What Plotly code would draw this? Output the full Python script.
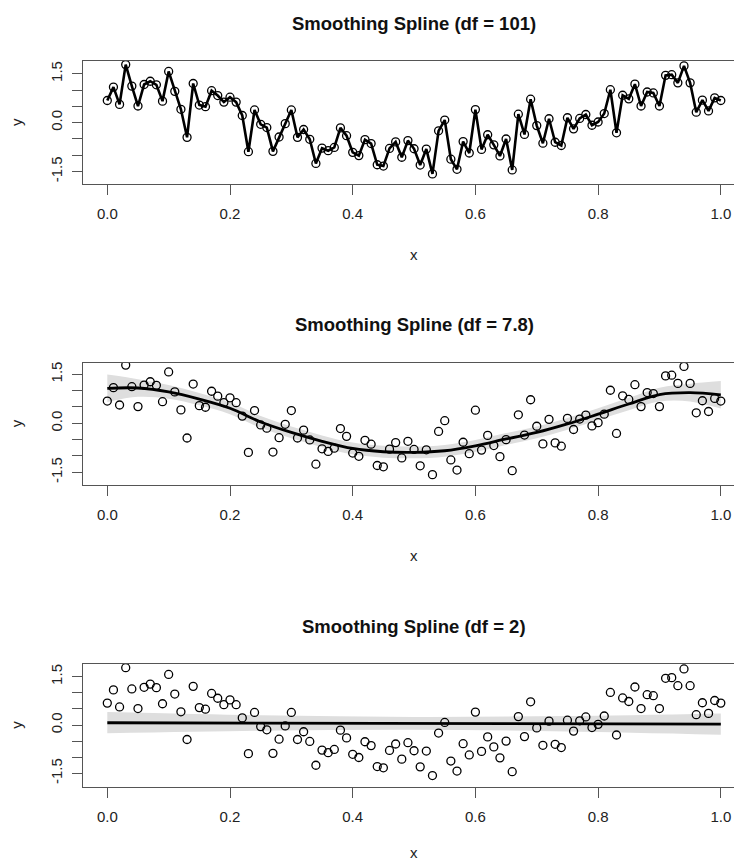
import plotly.graph_objects as go

# Observations: x = 0.00, 0.01, ..., 1.00
x_obs = [round(i * 0.01, 2) for i in range(101)]
y_obs = [
    0.68, 1.09, 0.56, 1.78, 1.12, 0.51, 1.17, 1.27, 1.16, 0.66,
    1.57, 0.96, 0.41, -0.45, 1.20, 0.54, 0.49, 0.98, 0.83, 0.63,
    0.78, 0.63, 0.22, -0.89, 0.39, -0.05, -0.15, -0.88, -0.44, -0.03,
    0.39, -0.45, -0.21, -0.51, -1.25, -0.78, -0.86, -0.76, -0.16, -0.40,
    -0.91, -1.01, -0.52, -0.64, -1.29, -1.33, -0.79, -0.59, -1.06, -0.55,
    -0.80, -1.30, -0.81, -1.57, -0.25, 0.08, -1.12, -1.43, -0.58, -0.93,
    0.40, -0.82, -0.37, -0.68, -1.02, -0.50, -1.45, 0.26, -0.36, 0.72,
    -0.09, -0.63, 0.12, -0.60, -0.70, 0.15, -0.19, 0.13, 0.25, -0.08,
    0.02, 0.28, 1.01, -0.31, 0.84, 0.73, 1.18, 0.51, 0.94, 0.91,
    0.51, 1.45, 1.47, 1.22, 1.74, 1.22, 0.32, 0.69, 0.36, 0.76,
    0.68,
]

# Fitted spline, df = 7.8, with pointwise band
x_fit7 = [round(i * 0.05, 2) for i in range(21)]
fit7 = [1.07, 1.08, 0.96, 0.74, 0.46, 0.04, -0.28, -0.55, -0.77, -0.87,
        -0.89, -0.84, -0.69, -0.48, -0.28, -0.02, 0.28, 0.59, 0.88, 0.94, 0.87]
upper7 = [1.49, 1.35, 1.17, 0.93, 0.64, 0.22, -0.10, -0.37, -0.59, -0.69,
          -0.71, -0.66, -0.51, -0.30, -0.10, 0.16, 0.46, 0.78, 1.09, 1.21, 1.29]
lower7 = [0.65, 0.81, 0.75, 0.55, 0.28, -0.14, -0.46, -0.73, -0.95, -1.05,
          -1.07, -1.02, -0.87, -0.66, -0.46, -0.20, 0.10, 0.40, 0.67, 0.67, 0.45]

# Fitted spline, df = 2 (straight line), with pointwise band
x_fit2 = [0.0, 0.25, 0.5, 0.75, 1.0]
fit2 = [0.07, 0.06, 0.05, 0.04, 0.03]
upper2 = [0.40, 0.30, 0.25, 0.28, 0.36]
lower2 = [-0.26, -0.18, -0.15, -0.20, -0.30]

titles = ["Smoothing Spline (df = 101)", "Smoothing Spline (df = 7.8)",
          "Smoothing Spline (df = 2)"]
x_ticks = [0.0, 0.2, 0.4, 0.6, 0.8, 1.0]
x_ticktext = ["0.0", "0.2", "0.4", "0.6", "0.8", "1.0"]
y_ticks = [-1.5, -1.0, -0.5, 0.0, 0.5, 1.0, 1.5]
y_ticktext = ["-1.5", "", "", "0.0", "", "", "1.5"]

W, H = 734, 861
FONT = "Liberation Sans, Arial, Helvetica, sans-serif"
BAND = "#dedede"
AXC = "#555555"

# panel boxes in pixels: (top, bottom) and y ranges
boxes = [(61, 184), (362.7, 485), (664, 786.7)]
yranges = [[-1.88, 1.89], [-1.887, 1.853], [-1.916, 1.894]]
xlab_offset = [70, 70, 66]
x_left_px = 83.0
x0_px, x1_px = 107.3, 720.8
ppu = x1_px - x0_px
xrange_ = [(x_left_px - x0_px) / ppu, (W - x0_px) / ppu]

fig = go.Figure()

# panel 1: interpolating spline through every observation
fig.add_trace(go.Scatter(
    x=x_obs, y=y_obs, mode="lines+markers", xaxis="x", yaxis="y",
    line=dict(color="black", width=2.6),
    marker=dict(symbol="circle-open", size=8, color="black",
                line=dict(width=1.3, color="black")),
    showlegend=False, hoverinfo="skip"))

# panel 2
fig.add_trace(go.Scatter(x=x_fit7, y=lower7, mode="lines", xaxis="x2", yaxis="y2",
                         line=dict(width=0, shape="spline", color=BAND),
                         showlegend=False, hoverinfo="skip"))
fig.add_trace(go.Scatter(x=x_fit7, y=upper7, mode="lines", xaxis="x2", yaxis="y2",
                         line=dict(width=0, shape="spline", color=BAND),
                         fill="tonexty", fillcolor=BAND,
                         showlegend=False, hoverinfo="skip"))
fig.add_trace(go.Scatter(
    x=x_obs, y=y_obs, mode="markers", xaxis="x2", yaxis="y2",
    marker=dict(symbol="circle-open", size=8, color="black",
                line=dict(width=1.3, color="black")),
    showlegend=False, hoverinfo="skip"))
fig.add_trace(go.Scatter(x=x_fit7, y=fit7, mode="lines", xaxis="x2", yaxis="y2",
                         line=dict(width=2.8, shape="spline", color="black"),
                         showlegend=False, hoverinfo="skip"))

# panel 3
fig.add_trace(go.Scatter(x=x_fit2, y=lower2, mode="lines", xaxis="x3", yaxis="y3",
                         line=dict(width=0, shape="spline", color=BAND),
                         showlegend=False, hoverinfo="skip"))
fig.add_trace(go.Scatter(x=x_fit2, y=upper2, mode="lines", xaxis="x3", yaxis="y3",
                         line=dict(width=0, shape="spline", color=BAND),
                         fill="tonexty", fillcolor=BAND,
                         showlegend=False, hoverinfo="skip"))
fig.add_trace(go.Scatter(
    x=x_obs, y=y_obs, mode="markers", xaxis="x3", yaxis="y3",
    marker=dict(symbol="circle-open", size=8, color="black",
                line=dict(width=1.3, color="black")),
    showlegend=False, hoverinfo="skip"))
fig.add_trace(go.Scatter(x=x_fit2, y=fit2, mode="lines", xaxis="x3", yaxis="y3",
                         line=dict(width=2.8, color="black"),
                         showlegend=False, hoverinfo="skip"))

layout = dict(
    width=W, height=H, margin=dict(l=0, r=0, t=0, b=0),
    paper_bgcolor="white", plot_bgcolor="white",
    font=dict(family=FONT, color="#222222", size=15),
    showlegend=False,
)

annotations = []
for k in range(3):
    top, bot = boxes[k]
    sfx = "" if k == 0 else str(k + 1)
    layout["xaxis" + sfx] = dict(
        domain=[x_left_px / W, 1.0], range=xrange_, anchor="y" + sfx,
        tickvals=x_ticks, ticktext=x_ticktext, ticks="outside", ticklen=10,
        tickwidth=1.2, tickcolor=AXC, showgrid=False, zeroline=False,
        showline=True, linecolor=AXC, linewidth=1.4, mirror=True,
        tickfont=dict(size=15, family=FONT, color="#222222"),
        ticklabelstandoff=6,
    )
    layout["yaxis" + sfx] = dict(
        domain=[1 - bot / H, 1 - top / H], range=yranges[k], anchor="x" + sfx,
        tickvals=y_ticks, ticktext=y_ticktext, ticks="outside", ticklen=10,
        tickwidth=1.2, tickcolor=AXC, showgrid=False, zeroline=False,
        showline=True, linecolor=AXC, linewidth=1.4,
        tickangle=-90, tickfont=dict(size=15, family=FONT, color="#222222"),
        ticklabelstandoff=4,
    )
    annotations.append(dict(
        text="<b>" + titles[k] + "</b>", xref="paper", yref="paper",
        x=414 / W, y=1 - (top - 38) / H, xanchor="center", yanchor="middle",
        showarrow=False, font=dict(size=18.5, family=FONT, color="#111111")))
    annotations.append(dict(
        text="x", xref="paper", yref="paper",
        x=414 / W, y=1 - (bot + xlab_offset[k]) / H, xanchor="center", yanchor="middle",
        showarrow=False, font=dict(size=15, family=FONT, color="#222222")))
    annotations.append(dict(
        text="y", xref="paper", yref="paper", textangle=-90,
        x=16.5 / W, y=1 - ((top + bot) / 2) / H, xanchor="center", yanchor="middle",
        showarrow=False, font=dict(size=15, family=FONT, color="#222222")))

layout["annotations"] = annotations
fig.update_layout(**layout)
fig.write_html("out.html")
